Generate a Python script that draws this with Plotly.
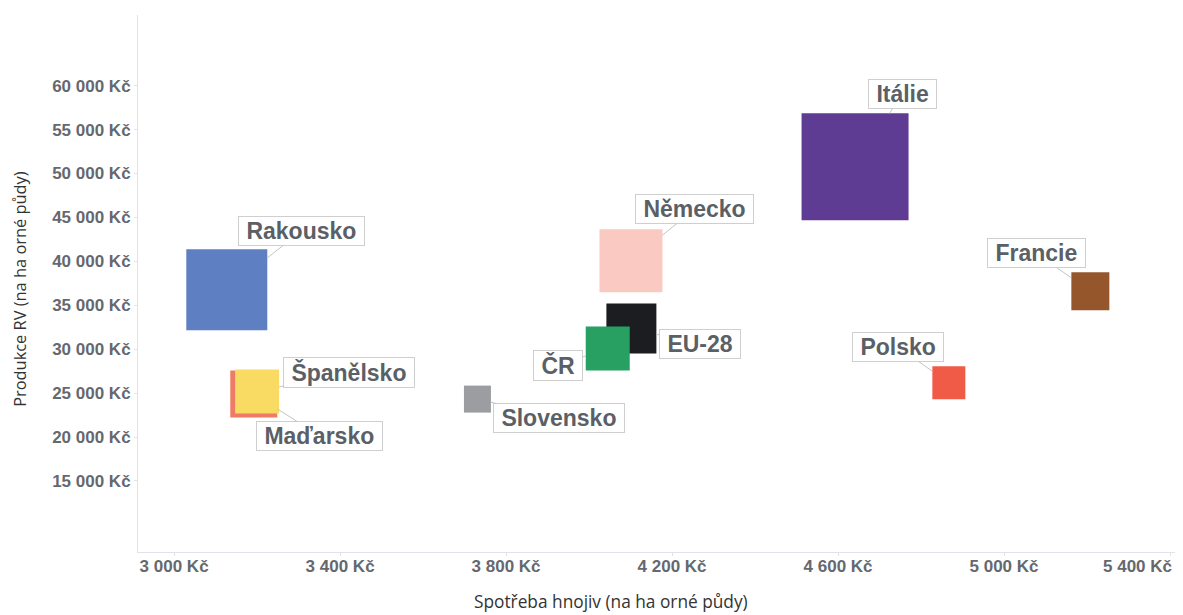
import math
import plotly.graph_objects as go

# ---- data ----
countries = ["Rakousko", "Maďarsko", "Španělsko", "Slovensko", "EU-28",
             "ČR", "Německo", "Itálie", "Polsko", "Francie"]
spotreba_hnojiv = [3127, 3192, 3200, 3731, 4102, 4045, 4101, 4641, 4867, 5208]
produkce_rv = [36770, 24910, 25190, 24320, 32370, 30090, 40070, 50760, 26170, 36600]
velikost = [81, 47, 44, 27, 50, 44, 63, 107, 33, 38]
x_tick_values = [3000, 3400, 3800, 4200, 4600, 5000, 5400]
y_tick_values = [15000, 20000, 25000, 30000, 35000, 40000, 45000, 50000, 55000, 60000]
x_title = "Spotřeba hnojiv (na ha orné půdy)"
y_title = "Produkce RV (na ha orné půdy)"

# ---- styles ----
colors = ["#5e7fc1", "#ee7b64", "#f9da62", "#9b9da0", "#1b1d21",
          "#27a062", "#fac9c1", "#5f3c94", "#f05b48", "#95562c"]
label_offsets = {
    "Rakousko": (75, -59), "Maďarsko": (66, 42), "Španělsko": (92, -19),
    "Slovensko": (82, 19), "EU-28": (69, 16), "ČR": (-50, 17),
    "Německo": (64, -52), "Itálie": (47, -73), "Polsko": (-51, -36),
    "Francie": (-54, -38),
}
tick_font = dict(family="Liberation Sans, Arial", size=17, color="#65686f",
                 weight="bold")


def kc(v):
    return f"{v:,}".replace(",", " ") + " Kč"


fig = go.Figure()
fig.add_trace(go.Scatter(
    x=spotreba_hnojiv, y=produkce_rv, mode="markers",
    marker=dict(symbol="square", size=velikost, sizemode="diameter",
                color=colors, line=dict(width=0), opacity=1),
    text=countries, hoverinfo="text", showlegend=False,
))

annotations = []
for name, xv, yv, s in zip(countries, spotreba_hnojiv, produkce_rv, velikost):
    ax, ay = label_offsets[name]
    dist = math.hypot(ax, ay)
    standoff = (s / 2) * dist / max(abs(ax), abs(ay))
    annotations.append(dict(
        x=xv, y=yv, xref="x", yref="y", text="&nbsp;" + name + "&nbsp;",
        showarrow=True, ax=ax, ay=ay, arrowhead=0, arrowwidth=1,
        arrowcolor="#c4c4c4", standoff=standoff,
        bgcolor="white", bordercolor="#cfcfcf", borderwidth=1, borderpad=1,
        font=dict(family="Liberation Sans, Arial", size=23, color="#5b5f66",
                  weight="bold"),
    ))

# last x tick label is right-aligned to stay inside the chart
x_ticktext = [kc(v) for v in x_tick_values]
annotations.append(dict(
    text=x_ticktext[-1], x=x_tick_values[-1], xref="x", yref="paper",
    y=-0.027, xanchor="right", yanchor="middle", xshift=4, showarrow=False,
    font=tick_font,
))
x_ticktext[-1] = ""

# axis titles
annotations.append(dict(
    text=x_title, xref="paper", yref="paper", x=0.4566, y=-0.093,
    xanchor="center", yanchor="middle", showarrow=False,
    font=dict(family="Open Sans", size=17.3, color="#333333"),
))
annotations.append(dict(
    text=y_title, xref="paper", yref="paper", x=-0.1138, y=0.49,
    xanchor="center", yanchor="middle", showarrow=False, textangle=-90,
    font=dict(family="Open Sans", size=16.4, color="#333333"),
))

fig.update_layout(
    width=1175, height=607,
    margin=dict(l=130, r=8, t=7, b=63),
    paper_bgcolor="white", plot_bgcolor="white",
    annotations=annotations,
    xaxis=dict(
        range=[2913, 5412], tickvals=x_tick_values, ticktext=x_ticktext,
        showgrid=False, zeroline=False,
        showline=True, linecolor="#e2e2ea", linewidth=1,
        ticks="outside", ticklen=3, tickcolor="#e2e2ea",
        ticklabelstandoff=-4,
        tickfont=tick_font,
    ),
    yaxis=dict(
        range=[6913, 68050], tickvals=y_tick_values,
        ticktext=[kc(v) for v in y_tick_values],
        showgrid=False, zeroline=False,
        showline=True, linecolor="#e2e2ea", linewidth=1,
        ticks="outside", ticklen=3, tickcolor="#e2e2ea",
        tickfont=tick_font,
    ),
)

fig.write_html("out.html")
